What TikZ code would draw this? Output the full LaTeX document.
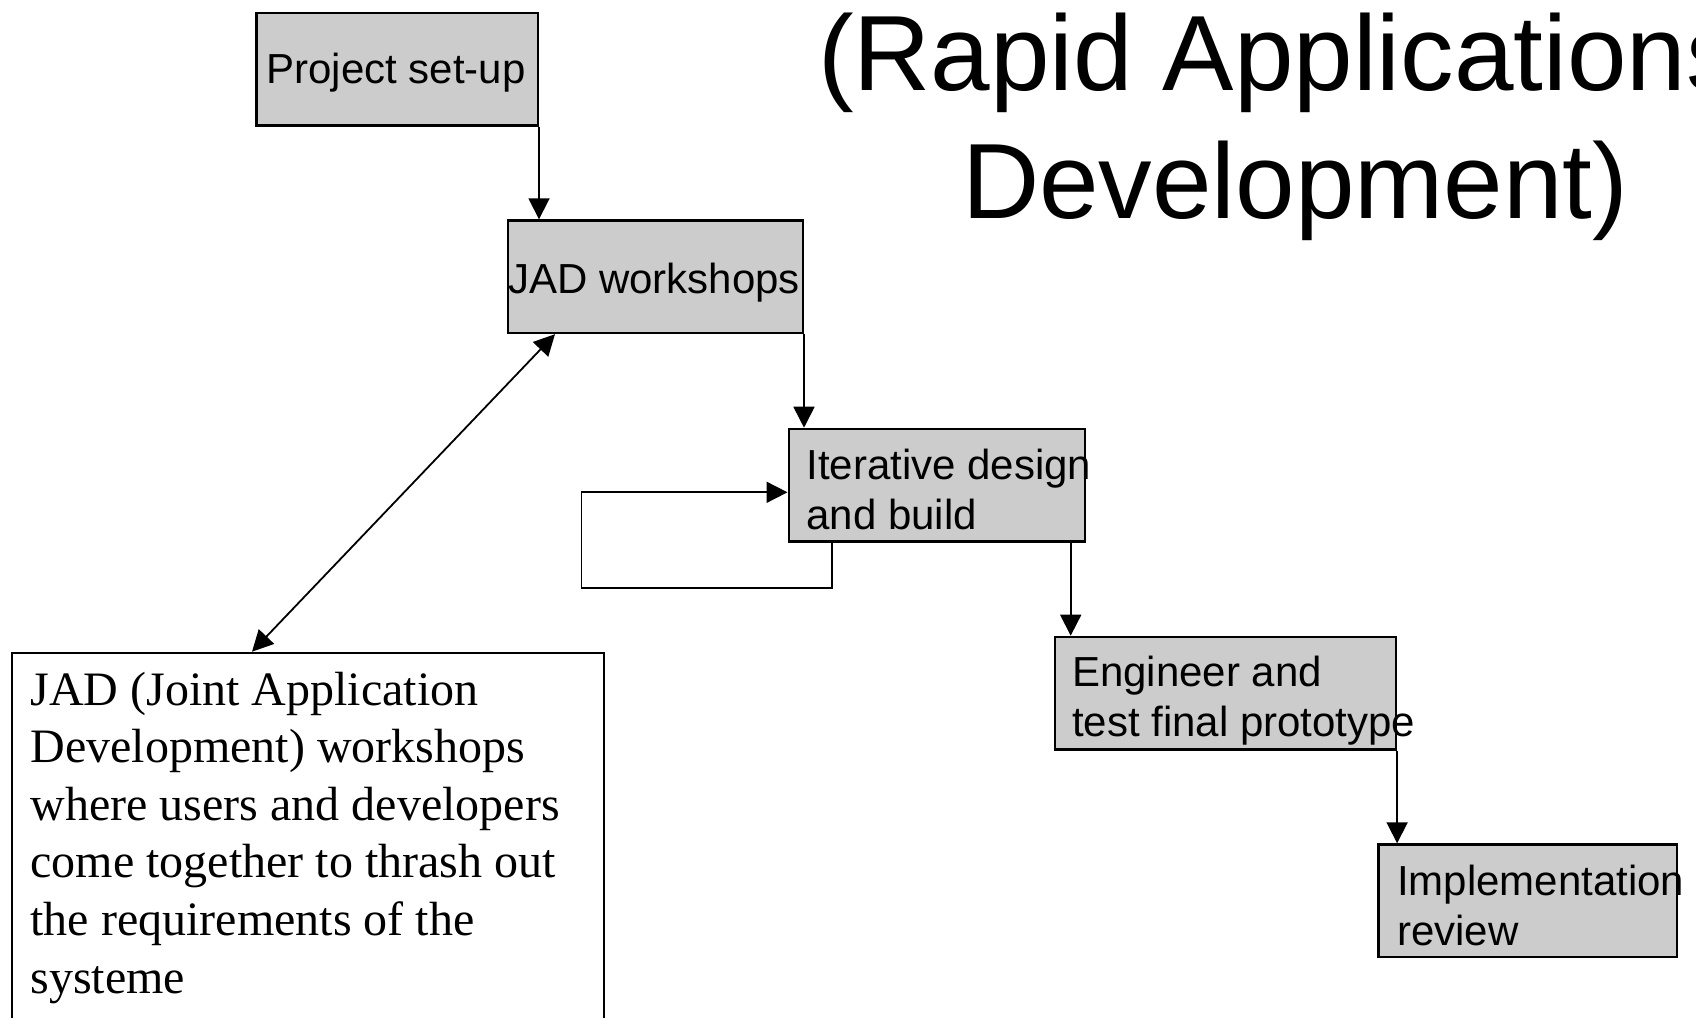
\documentclass[tikz,border=0pt]{standalone}
\usepackage{fontspec}
\setmainfont{Liberation Sans}
\newfontfamily\serifrm{Liberation Serif}
\usetikzlibrary{arrows.meta}
\definecolor{boxgray}{RGB}{204,204,204}
\begin{document}
\begin{tikzpicture}[x=0.5pt,y=-0.5pt,
  gbox/.style={draw=black, line width=1.2pt, fill=boxgray, inner sep=0pt, minimum height=56.25pt, anchor=north west},
  wbox/.style={draw=black, line width=1.1pt, fill=white, inner sep=0pt, anchor=north west},
  lbl/.style={inner sep=0pt, font=\fontsize{21}{25.2}\selectfont, anchor=base west},
  ttl/.style={inner sep=0pt, font=\fontsize{53.5}{64.2}\selectfont, anchor=base west},
  conn/.style={line width=0.9pt, -{Triangle[length=10.5pt,width=10.5pt]}},
  dconn/.style={line width=0.9pt, {Triangle[length=10.5pt,width=10.5pt]}-{Triangle[length=10.5pt,width=10.5pt]}},
  plain/.style={line width=0.9pt},
]
\useasboundingbox (0,0) rectangle (1696,1017);
\clip (0,0) rectangle (1696,1017);
\fill[white] (0,0) rectangle (1696,1017);

% title
\node[ttl] (title1) at (817.7,90) {(Rapid Applications};
\node[ttl] (title2) at (961.7,218.3) {Development)};

% boxes
\node[gbox, minimum width=140.65pt] (setup) at (255.3,11.7) {};
\node[gbox, minimum width=147.55pt] (jad) at (506.5,219.3) {};
\node[gbox, minimum width=148pt] (iter) at (787.5,427.7) {};
\node[gbox, minimum width=170.35pt] (eng) at (1054,635.7) {};
\node[gbox, minimum width=149.1pt] (impl) at (1377.3,843.3) {};
\node[wbox, minimum width=295.85pt, minimum height=240pt] (jadbox) at (11,651.7) {};

% texts
\node[lbl, anchor=base] (tsetup) at (396,83.3) {Project set-up};
\node[lbl, anchor=base] (tjad) at (654,293.3) {JAD workshops};
\node[lbl] (titer) at (806,479) {\vtop{\baselineskip=25.2pt\hbox{Iterative design}\hbox{and build}}};
\node[lbl] (teng) at (1071.7,686) {\vtop{\baselineskip=25.2pt\hbox{Engineer and}\hbox{test final prototype}}};
\node[lbl] (timpl) at (1396.7,895) {\vtop{\baselineskip=25.2pt\hbox{Implementation}\hbox{review}}};
\node[inner sep=0pt, anchor=base west, font=\serifrm\fontsize{24}{28.8}\selectfont] (tjadbox) at (30.2,705)
  {\vtop{\baselineskip=28.8pt
    \hbox{JAD (Joint Application}
    \hbox{Development) workshops}
    \hbox{where users and developers}
    \hbox{come together to thrash out}
    \hbox{the requirements of the}
    \hbox{systeme}}};

% connectors
\draw[conn] (setup.south east) -- (setup.south east |- jad.north);
\draw[conn] (jad.south east) -- (jad.south east |- iter.north);
\draw[conn] ([xshift=-7.6pt]iter.south east) -- ([xshift=-7.6pt]iter.south east |- eng.north);
\draw[conn] (eng.south east) -- (eng.south east |- impl.north);
\coordinate (loopA) at (581.4,587.7);
\coordinate (loopB) at (581.4,492.3);
\draw[conn, line join=miter] ([xshift=22.25pt]iter.south west) |- (loopA) -- (loopB) -- (loopB -| iter.west);
\draw[dconn] ([xshift=24.25pt]jad.south west) -- ([xshift=120.5pt]jadbox.north west);
\end{tikzpicture}
\end{document}
